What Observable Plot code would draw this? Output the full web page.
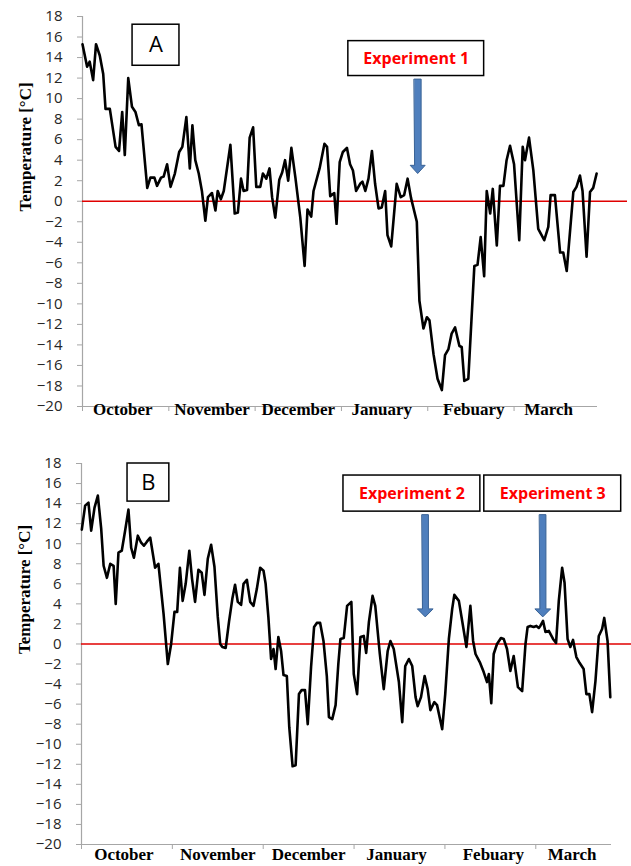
<!DOCTYPE html>
<html>
<head>
<meta charset="utf-8">
<script src="https://cdn.jsdelivr.net/npm/d3@7"></script>
<script src="https://cdn.jsdelivr.net/npm/@observablehq/plot@0.6"></script>
<style>
  html, body { margin: 0; padding: 0; background: #fff; }
  #wrap { width: 631px; }
  svg g[aria-label^="y-axis"] line, svg g[aria-label^="y-axis"] path,
  svg g[aria-label^="x-axis"] line, svg g[aria-label^="x-axis"] path { stroke: #a6a6a6; }
</style>
</head>
<body>
<div id="wrap"><div id="panelA"></div><div id="panelB"></div></div>
<script>
// ---- data ----
const months = ["October", "November", "December", "January", "Febuary", "March"];
const monthTicks = [0, 30, 60, 90, 120, 150];
const monthLabelPos = [14, 45, 75, 104, 136, 162];
const yTicks = [-20, -18, -16, -14, -12, -10, -8, -6, -4, -2, 0, 2, 4, 6, 8, 10, 12, 14, 16, 18];
const yTitle = "Temperature [°C]";

// Panel A: day index since 1 October, temperature °C
const aDay = [0,1.6,2.5,3.7,4.7,6,7.2,8,9.5,11.5,12.7,13.8,14.7,15.9,17.2,18.4,19.6,20.5,22.5,23.6,25,25.9,27.3,28.2,29.4,30.6,32.1,33.6,34.7,36.1,37.3,38.2,39.2,40.4,41.5,42.7,43.6,45,46.2,47,48.1,49.1,51.4,52.9,54,55.1,56,57.2,58.1,59.3,60.4,61.8,62.7,63.9,65,65.9,67,68.4,69.4,70.4,71.5,72.6,74,75.7,77.2,78.2,79.5,80.3,82.4,84.1,85,86.1,87.5,88.3,89.4,90.5,91.9,93,94,95.1,96.5,97.3,98.3,99.4,100.6,101.7,102.9,104,105.2,106,107.3,109.2,110.6,111.8,113,114.2,116.2,117.1,118.5,119.7,120.6,122,123.4,124.9,126,127.2,128.3,129.5,131,131.8,132.7,134.1,136.2,137.3,138.4,139.6,140.5,141.7,142.6,144,145.1,146.3,147.4,148.6,150,151.8,153,153.8,155.2,156.7,158.4,160.5,161.9,162.7,164.2,166,167.1,168.3,170.6,171.7,172.9,173.8,175.2,176.4,177.5,178.7];
const aTemp = [15.3,13.1,13.6,11.8,15.3,14.2,12.4,9.0,9.0,5.3,4.9,8.7,4.5,12.0,9.2,8.7,7.4,7.5,1.3,2.3,2.3,1.5,2.3,2.4,3.6,1.4,2.7,4.8,5.3,8.2,3.2,7.4,4.0,2.7,1.0,-1.9,0.4,0.8,-0.9,1.0,0.2,1.0,5.5,-1.2,-1.1,2.2,1.0,1.1,6.2,7.2,1.4,1.4,2.7,2.2,3.2,0.4,-1.6,2.1,2.8,4.0,2.0,5.2,2.3,-1.6,-6.3,-0.8,-1.5,1.0,3.2,5.6,5.3,0.5,0.8,-2.2,3.8,4.8,5.2,3.6,3.0,1.0,1.7,1.9,1.0,2.2,4.9,1.7,-0.7,-0.6,1.0,-3.3,-4.4,1.7,0.4,0.6,2.2,0.3,-2.0,-9.7,-12.4,-11.3,-11.6,-14.9,-17.3,-18.4,-15.0,-14.4,-12.9,-12.3,-14.1,-14.2,-17.5,-17.3,-6.3,-6.2,-3.5,-7.3,1.0,-1.2,1.2,-4.3,1.5,1.5,4.0,5.4,3.6,-3.8,5.3,4.0,6.2,3.0,-2.7,-3.8,-2.5,0.6,0.6,-5.0,-5.0,-6.8,0.9,1.4,2.5,1.0,-5.4,0.9,1.3,2.7];

// Panel B
const bDay = [0.1,1.2,2.3,3.2,4.3,5.4,6.5,7.3,8.4,9.5,10.6,11.3,12.2,13.3,14.4,15.5,16.4,17.3,18.6,19.7,20.6,21.6,22.7,24.3,25.4,27.1,28.5,29.6,30.7,31.6,32.5,33.4,34.4,35.6,36.5,37.5,38.6,39.7,40.6,41.7,42.8,43.9,45,45.8,46.5,47.6,48.7,49.8,50.7,51.6,52.7,53.5,54.6,55.7,56.8,57.9,59,60.1,60.8,61.7,62.6,63.4,64.1,65,65.9,66.7,67.8,68.6,69.7,70.7,71.8,72.7,73.8,74.7,75.8,76.8,77.7,78.8,79.9,81,81.7,82.8,83.9,84.8,85.5,86.6,87.7,89.1,89.9,91,92.1,93.2,94,94.9,96.1,97,98.5,99.8,101.1,102,103.1,104.8,105.9,106.9,108.1,109.2,110.3,111,112.1,113.3,114.3,115.2,116.5,117.4,119.1,120.1,121.3,122.4,123.1,124.6,125.7,127.1,128.4,129.3,130.1,131.5,132.8,133.9,134.5,135.3,136.1,137.2,138.5,139.4,140.5,141.6,142.7,144.1,145.5,146.6,147.3,148.2,149.3,150.2,151,151.5,152.4,153.2,154.3,155.7,156.7,157.6,158.7,159.5,160.5,161.4,162.3,163.4,164.5,165.8,166.7,167.7,168.6,169.7,170.8,171.9,172.6,173.7,174.6];
const bTemp = [11.4,13.8,14.1,11.3,13.6,14.8,11.5,7.8,6.6,8.0,7.8,4.0,9.1,9.3,11.3,13.4,9.6,8.6,10.8,10.1,9.8,10.2,10.6,7.6,8.0,3.0,-2.0,0,3.2,3.2,7.6,4.3,6.0,9.3,6.5,4.2,7.4,7.1,4.9,8.5,9.9,7.7,2.7,0,-0.3,-0.4,2.2,4.5,5.9,4.2,3.9,6.0,6.4,4.2,3.8,5.5,7.6,7.3,6.0,2.7,-1.5,-0.5,-2.5,0.7,-0.7,-3.1,-3.2,-8.3,-12.2,-12.1,-5.0,-4.6,-4.6,-8.0,-2.3,1.7,2.1,2.1,0.3,-3.2,-7.3,-7.5,-6.1,-2.0,0.5,0.6,3.8,4.2,-3.0,-5.0,0.7,0.8,-0.9,2.2,4.8,3.8,-1.0,-4.5,-0.7,0.3,-0.5,-3.8,-7.8,-2.2,-1.5,-2.2,-5.3,-6.2,-5.3,-3.2,-4.5,-6.6,-5.8,-6.1,-8.5,-5.0,0.5,3.5,4.9,4.3,2.3,-0.3,3.8,0.3,-1.0,-1.8,-2.8,-3.8,-3.0,-5.9,-1.0,0,0.6,0.5,-0.5,-2.7,-1.2,-4.3,-4.7,0,1.7,1.8,1.7,1.8,1.6,1.8,2.3,1.2,1.3,0.5,0.1,4.3,7.6,6.1,0.5,-0.3,0.4,-1.3,-1.9,-2.5,-5.0,-5.0,-6.8,-3.7,0.8,1.5,2.6,0.3,-5.3];

const panelLabels = ["A", "B"];
const experiments = ["Experiment 1", "Experiment 2", "Experiment 3"];

// ---- drawing helpers ----
const serif = "'Liberation Serif', 'Times New Roman', serif";
const sans = "'Open Sans', 'Liberation Sans', sans-serif";

function arrowMarks(xc, yTop, yBase, yTip, wShaft, wHead) {
  const pts = [
    {x: xc - wShaft, y: yTop}, {x: xc + wShaft, y: yTop}, {x: xc + wShaft, y: yBase},
    {x: xc + wHead, y: yBase}, {x: xc, y: yTip}, {x: xc - wHead, y: yBase}, {x: xc - wShaft, y: yBase}
  ];
  return Plot.line(pts, {x: "x", y: "y", curve: "linear-closed", fill: "#4f7fbd", stroke: "#3a6396", strokeWidth: 1});
}

function boxMarks(label, x1, x2, y1, y2, opts) {
  return [
    Plot.rect([label], {x1, x2, y1, y2, fill: "white", stroke: "black", strokeWidth: 1.5}),
    Plot.text([label], {x: (x1 + x2) / 2, y: (y1 + y2) / 2, text: d => d, ...opts})
  ];
}

function panel({days, temps, xMax, height, mt, mb, ml, mr, monthDy, annotations, redExtend}) {
  const data = days.map((d, i) => ({day: d, t: temps[i]}));
  return Plot.plot({
    width: 631, height,
    marginLeft: ml, marginRight: mr, marginTop: mt, marginBottom: mb,
    style: {fontFamily: sans, fontSize: "15px", background: "white", color: "#262626", overflow: "visible"},
    x: {domain: [0, xMax], ticks: monthTicks, tickSize: 5, tickFormat: () => "", label: null},
    y: {domain: [-20, 18], ticks: yTicks, tickSize: 5, tickPadding: 15, label: null},
    marks: [
      Plot.ruleX([0], {stroke: "#a6a6a6", strokeWidth: 1.2}),
      Plot.ruleY([-20], {stroke: "#a6a6a6", strokeWidth: 1.2}),
      Plot.ruleY([0], {stroke: "#e00000", strokeWidth: 1.6, insetRight: -redExtend}),
      Plot.line(data, {x: "day", y: "t", stroke: "black", strokeWidth: 2.6, strokeLinejoin: "round"}),
      Plot.text(months, {x: (d, i) => monthLabelPos[i], frameAnchor: "bottom", dy: monthDy, text: d => d,
        fontFamily: serif, fontWeight: "bold", fontSize: 17, letterSpacing: "0.7px", fill: "black"}),
      Plot.text([yTitle], {frameAnchor: "left", rotate: -90, dx: -57, text: d => d,
        fontFamily: serif, fontWeight: "bold", fontSize: 17, fill: "black"}),
      ...annotations
    ]
  });
}

const expStyle = {fontFamily: sans, fontWeight: "bold", fontSize: 16, fill: "#ff0000"};
const letterStyle = {fontFamily: sans, fontSize: 22, fill: "black"};

const chartA = panel({
  days: aDay, temps: aTemp, xMax: 179, height: 430, mt: 16, mb: 24, ml: 82, mr: 34, monthDy: 8, redExtend: 30,
  annotations: [
    ...boxMarks(panelLabels[0], 17.4, 33.7, 13.2, 17.2, letterStyle),
    ...boxMarks(experiments[0], 92.4, 139.6, 12.2, 15.6, expStyle),
    arrowMarks(116.5, 11.9, 3.5, 2.7, 1.2, 2.6)
  ]
});
const chartB = panel({
  days: bDay, temps: bTemp, xMax: 175, height: 436, mt: 33, mb: 22, ml: 81, mr: 20, monthDy: 15, redExtend: 20,
  annotations: [
    ...boxMarks(panelLabels[1], 15.2, 29, 14.2, 18.0, letterStyle),
    ...boxMarks(experiments[1], 86.5, 131.7, 13.2, 16.8, expStyle),
    ...boxMarks(experiments[2], 133, 178.2, 13.2, 16.8, expStyle),
    arrowMarks(113.5, 12.9, 3.5, 2.7, 1.05, 2.6),
    arrowMarks(152.3, 12.9, 3.5, 2.7, 1.05, 2.6)
  ]
});
document.getElementById("panelA").appendChild(chartA);
document.getElementById("panelB").appendChild(chartB);
</script>
</body>
</html>
